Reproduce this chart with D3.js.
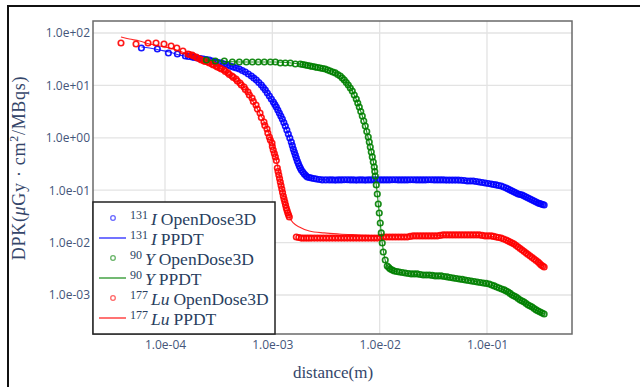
<!DOCTYPE html>
<html><head><meta charset="utf-8">
<script src="https://cdn.jsdelivr.net/npm/d3@7"></script>
<style>body{margin:0;background:#fff}svg{display:block}</style>
</head><body>
<svg id="c" width="640" height="387"></svg>
<script>
// ---------- tick values / labels ----------
const xTicks = [1e-4, 1e-3, 1e-2, 1e-1];
const xTickLabels = ["1.0e-04", "1.0e-03", "1.0e-02", "1.0e-01"];
const yTicks = [1e2, 1e1, 1e0, 1e-1, 1e-2, 1e-3];
const yTickLabels = ["1.0e+02", "1.0e+01", "1.0e+00", "1.0e-01", "1.0e-02", "1.0e-03"];

// ---------- series: [distance (m), DPK] ----------
const iodineOpenDose = [[6.03e-5,51.7],[8.49e-5,49.5],[1.076e-4,41.5],[1.304e-4,39.7],[1.548e-4,36.4],[1.651e-4,35.6],[1.79e-4,34.8],[1.878e-4,34.1],[2.002e-4,33.3],[2.136e-4,32.6],[2.278e-4,31.9],[2.429e-4,31.2],[2.59e-4,30.5],[2.762e-4,29.2],[2.946e-4,28.0],[3.142e-4,27.4],[3.350e-4,26.8],[3.573e-4,25.6],[3.811e-4,24.5],[4.064e-4,23.4],[4.333e-4,22.4],[4.622e-4,21.5],[4.93e-4,20.6],[5.256e-4,19.25],[5.606e-4,18.0],[5.977e-4,16.5],[6.376e-4,15.1],[6.724e-4,13.8],[7.097e-4,12.7],[7.485e-4,11.36],[7.900e-4,10.2],[8.243e-4,9.12],[8.607e-4,8.17],[8.981e-4,7.16],[9.38e-4,6.28],[9.788e-4,5.50],[1.022e-3,4.82],[1.055e-3,4.32],[1.089e-3,3.87],[1.125e-3,3.39],[1.162e-3,2.97],[1.200e-3,2.61],[1.239e-3,2.28],[1.280e-3,1.959],[1.321e-3,1.68],[1.365e-3,1.41],[1.409e-3,1.18],[1.455e-3,0.991],[1.502e-3,0.831],[1.535e-3,0.713],[1.568e-3,0.611],[1.603e-3,0.536],[1.638e-3,0.469],[1.673e-3,0.412],[1.709e-3,0.361],[1.747e-3,0.323],[1.784e-3,0.290],[1.823e-3,0.265],[1.862e-3,0.243],[1.923e-3,0.2225],[1.986e-3,0.204],[2.050e-3,0.1908],[2.118e-3,0.1786],[2.211e-3,0.1747],[2.307e-3,0.171],[2.434e-3,0.1672],[2.569e-3,0.1636],[2.739e-3,0.160],[2.920e-3,0.157],[3.148e-3,0.157],
[3.394e-3,0.157],[3.619e-3,0.157],[3.860e-3,0.156],[4.117e-3,0.157],[4.390e-3,0.157],[4.682e-3,0.158],[4.993e-3,0.158],[5.325e-3,0.157],[5.678e-3,0.157],[6.055e-3,0.156],[6.457e-3,0.157],[6.886e-3,0.157],[7.345e-3,0.156],[7.833e-3,0.157],[8.353e-3,0.157],[8.908e-3,0.158],[9.50e-3,0.158],[1.013e-2,0.157],[1.080e-2,0.157],[1.152e-2,0.157],[1.229e-2,0.157],[1.311e-2,0.158],[1.397e-2,0.158],[1.490e-2,0.157],[1.589e-2,0.157],[1.695e-2,0.157],[1.807e-2,0.157],[1.927e-2,0.158],[2.055e-2,0.158],[2.192e-2,0.157],[2.337e-2,0.157],[2.492e-2,0.157],[2.658e-2,0.157],[2.834e-2,0.158],[3.023e-2,0.158],[3.224e-2,0.157],[3.438e-2,0.157],[3.666e-2,0.157],[3.910e-2,0.157],[4.170e-2,0.156],[4.446e-2,0.156],[4.741e-2,0.156],[5.057e-2,0.156],[5.393e-2,0.156],[5.751e-2,0.155],[6.133e-2,0.1532],[6.540e-2,0.1498],[6.974e-2,0.1498],[7.438e-2,0.1498],[7.932e-2,0.1466],[8.459e-2,0.1434],[9.021e-2,0.1403],[9.620e-2,0.137],[0.1026,0.1342],[0.1094,0.1313],[0.1154,0.1284],[0.1218,0.126],[0.1285,0.1229],[0.1356,0.1203],[0.1430,0.1151],[0.1510,0.110],[0.1575,0.1054],[0.1644,0.101],[0.1716,0.0966],[0.1791,0.0924],[0.1870,0.0884],[0.1952,0.0846],[0.2037,0.0828],[0.2127,0.0810],[0.2220,0.0775],[0.2317,0.0742],[0.2418,0.0710],[0.2525,0.0679],[0.2635,0.0650],[0.2751,0.0622],[0.2870,0.0595],[0.2997,0.0570],[0.3095,0.0557],[0.3196,0.0545],[0.3301,0.0533],[0.3408,0.0522]];

const iodinePPDT = [[6.03e-5,54.1],[7.16e-5,51.7],[8.87e-5,47.4],[1.10e-4,43.4],[1.36e-4,38.0],[1.79e-4,34.8],[2.278e-4,31.9],[2.946e-4,28.0],[3.811e-4,24.5],[4.93e-4,20.6],[6.376e-4,15.1],[7.9e-4,10.2],[9.38e-4,6.28],[1.089e-3,3.87],[1.239e-3,2.28],[1.409e-3,1.18],[1.568e-3,0.611],[1.709e-3,0.361],[1.862e-3,0.243],[2.118e-3,0.1786],[2.569e-3,0.1636],[3.394e-3,0.157],[1.522e-2,0.157],[5.508e-2,0.157],[8.459e-2,0.1434],[0.1218,0.126],[0.1644,0.101],[0.2127,0.081],[0.2751,0.0622],[0.3408,0.0522]];

const yttriumOpenDose = [[2.429e-4,30.5],[2.946e-4,29.2],[3.573e-4,29.2],[4.242e-4,28.0],[4.93e-4,28.0],[5.727e-4,28.0],[6.514e-4,28.0],[7.407e-4,28.0],[8.423e-4,28.0],[9.581e-4,28.0],[1.067e-3,28.0],[1.187e-3,26.8],[1.321e-3,26.8],[1.471e-3,26.8],[1.638e-3,25.6],[1.823e-3,25.6],[1.923e-3,25.1],[2.029e-3,24.5],[2.140e-3,24.0],[2.259e-3,23.4],[2.383e-3,22.9],[2.514e-3,22.4],[2.652e-3,21.95],[2.798e-3,21.5],[2.953e-3,21.0],[3.114e-3,20.6],[3.287e-3,19.7],[3.467e-3,18.8],[3.659e-3,18.0],[3.860e-3,17.3],[4.073e-3,16.1],[4.296e-3,15.1],[4.484e-3,13.8],[4.681e-3,12.7],[4.887e-3,11.36],[5.099e-3,10.2],[5.324e-3,8.92],[5.556e-3,7.82],[5.800e-3,6.56],[6.053e-3,5.50],[6.251e-3,4.61],[6.457e-3,3.87],[6.668e-3,3.18],[6.887e-3,2.61],[7.112e-3,2.09],[7.345e-3,1.68],[7.585e-3,1.319],[7.833e-3,1.036],[8.003e-3,0.831],[8.176e-3,0.667],[8.353e-3,0.536],[8.534e-3,0.431],[8.720e-3,0.345],[8.908e-3,0.277],[9.004e-3,0.2275],[9.10e-3,0.1866],[9.297e-3,0.126],[9.50e-3,0.0846],[9.705e-3,0.0545],[9.915e-3,0.0367],[1.013e-2,0.0237],[1.035e-2,0.0153],[1.057e-2,0.00982],[1.080e-2,0.00662],[1.127e-2,0.00466],[1.177e-2,0.00358],[1.216e-2,0.00335],[1.256e-2,0.00313],[1.310e-2,0.00300],[1.367e-2,0.00287],[1.443e-2,0.00281],[1.522e-2,0.00275],[1.623e-2,0.00269],[1.731e-2,0.00263],[1.846e-2,0.00257],[1.968e-2,0.00252],[2.100e-2,0.00252],[2.239e-2,0.00252],[2.388e-2,0.00246],[2.546e-2,0.00241],[2.716e-2,0.00241],[2.896e-2,0.00241],[3.089e-2,0.00236],[3.293e-2,0.00231],[3.513e-2,0.00231],[3.745e-2,0.00231],[3.996e-2,0.00225],[4.259e-2,0.00221],[4.544e-2,0.00216],[4.844e-2,0.00211],[5.167e-2,0.00206],[5.508e-2,0.00202],[5.877e-2,0.00198],[6.266e-2,0.00193],[6.683e-2,0.00189],[7.127e-2,0.00185],[7.601e-2,0.00181],[8.104e-2,0.00177],[8.644e-2,0.00173],[9.218e-2,0.00169],[9.830e-2,0.00166],[0.1048,0.00162],[0.1106,0.00155],[0.1167,0.00149],[0.1231,0.00142],[0.1299,0.00136],[0.1370,0.00130],[0.1446,0.00125],[0.1510,0.00119],[0.1575,0.00114],[0.1644,0.00107],[0.1716,0.00100],[0.1791,0.000957],[0.1870,0.000916],[0.1952,0.000857],[0.2037,0.000803],[0.2127,0.000768],[0.2220,0.000735],[0.2317,0.000688],[0.2418,0.000644],[0.2525,0.000617],[0.2635,0.000590],[0.2751,0.000553],[0.2870,0.000518],[0.2997,0.000495],[0.3128,0.000474],[0.3266,0.000453],[0.3408,0.000434]];

const yttriumPPDT = [[2.429e-4,30.5],[4.93e-4,28.0],[1.067e-3,28.0],[1.823e-3,25.6],[2.798e-3,21.5],[3.86e-3,17.3],[4.681e-3,12.7],[5.556e-3,7.82],[6.457e-3,3.87],[7.345e-3,1.68],[8.176e-3,0.667],[8.908e-3,0.277],[9.50e-3,0.0846],[1.013e-2,0.0237],[1.057e-2,0.00982],[1.104e-2,0.00555],[1.177e-2,0.00358],[1.367e-2,0.00287],[1.968e-2,0.00252],[3.293e-2,0.00231],[5.508e-2,0.00202],[9.218e-2,0.00169],[0.1299,0.00136],[0.1716,0.00100],[0.2220,0.000735],[0.2870,0.000518],[0.3408,0.000434]];

const lutetiumOpenDose = [[3.89e-5,64.4],[5.37e-5,61.6],[6.95e-5,64.4],[8.25e-5,64.4],[9.79e-5,61.6],[1.14e-4,56.5],[1.29e-4,51.7],[1.47e-4,45.4],[1.64e-4,39.7],[1.687e-4,38.9],[1.79e-4,38.0],[1.838e-4,36.4],[1.95e-4,34.8],[2.002e-4,33.3],[2.12e-4,31.9],[2.182e-4,30.5],[2.31e-4,29.2],[2.377e-4,28.6],[2.52e-4,28.0],[2.59e-4,26.8],[2.74e-4,25.6],[2.823e-4,24.5],[2.99e-4,23.4],[3.075e-4,22.4],[3.25e-4,21.5],[3.35e-4,20.6],[3.55e-4,19.7],[3.651e-4,18.4],[3.86e-4,17.3],[3.978e-4,16.1],[4.21e-4,15.1],[4.333e-4,14.2],[4.59e-4,13.2],[4.721e-4,12.1],[5.00e-4,11.1],[5.145e-4,10.2],[5.45e-4,9.32],[5.606e-4,8.35],[5.93e-4,7.48],[6.107e-4,6.56],[6.47e-4,5.75],[6.653e-4,4.93],[7.05e-4,4.23],[7.248e-4,3.54],[7.68e-4,2.97],[7.900e-4,2.44],[8.36e-4,2.00],[8.514e-4,1.717],[8.92e-4,1.47],[9.08e-4,1.235],[9.38e-4,1.036],[9.581e-4,0.906],[9.93e-4,0.796],[1.0e-3,0.682],[1.02e-3,0.584],[1.044e-3,0.502],[1.067e-3,0.431],[1.089e-3,0.369],[1.113e-3,0.265],[1.131e-3,0.2275],[1.149e-3,0.195],[1.168e-3,0.1672],[1.187e-3,0.1434],[1.206e-3,0.1229],[1.226e-3,0.1054],[1.245e-3,0.0904],[1.266e-3,0.0775],[1.286e-3,0.0679],[1.307e-3,0.0595],[1.328e-3,0.0522],[1.350e-3,0.0457],[1.372e-3,0.0410],[1.394e-3,0.0367],[1.417e-3,0.0336],[1.440e-3,0.0308],
[1.673e-3,0.0128],[1.765e-3,0.0125],[1.862e-3,0.0122],[1.965e-3,0.0122],[2.073e-3,0.0122],[2.187e-3,0.0122],[2.307e-3,0.0122],[2.461e-3,0.0122],[2.624e-3,0.0122],[2.798e-3,0.0122],[2.985e-3,0.0122],[3.183e-3,0.0122],[3.394e-3,0.0122],[3.619e-3,0.0122],[3.860e-3,0.0122],[4.117e-3,0.0122],[4.390e-3,0.0122],[4.682e-3,0.0122],[4.993e-3,0.0122],[5.325e-3,0.0122],[5.678e-3,0.0122],[6.055e-3,0.0122],[6.457e-3,0.0122],[6.886e-3,0.0122],[7.345e-3,0.0122],[7.833e-3,0.0122],[8.353e-3,0.0122],[8.908e-3,0.0122],[9.50e-3,0.0122],[1.013e-2,0.0125],[1.080e-2,0.0128],[1.152e-2,0.0128],[1.229e-2,0.0128],[1.311e-2,0.0128],[1.397e-2,0.0128],[1.490e-2,0.0128],[1.589e-2,0.0128],[1.695e-2,0.0128],[1.807e-2,0.0128],[1.927e-2,0.0131],[2.055e-2,0.0134],[2.192e-2,0.0134],[2.337e-2,0.0134],[2.492e-2,0.0134],[2.658e-2,0.0134],[2.834e-2,0.0134],[3.023e-2,0.0134],[3.224e-2,0.0134],[3.438e-2,0.0134],[3.666e-2,0.0137],[3.910e-2,0.0140],[4.170e-2,0.0140],[4.446e-2,0.0140],[4.741e-2,0.0140],[5.057e-2,0.0140],[5.393e-2,0.0140],[5.751e-2,0.0140],[6.133e-2,0.0140],[6.540e-2,0.0140],[6.974e-2,0.0140],[7.438e-2,0.0140],[7.932e-2,0.0140],[8.459e-2,0.0140],[9.021e-2,0.0137],[9.620e-2,0.0134],[0.1026,0.0134],[0.1094,0.0134],[0.1154,0.0131],[0.1218,0.0128],[0.1285,0.0125],[0.1356,0.0122],[0.1430,0.0117],[0.1510,0.0112],[0.1575,0.01073],[0.1644,0.01026],[0.1716,0.00982],[0.1791,0.00940],[0.1870,0.00880],[0.1952,0.00824],[0.2037,0.00772],[0.2127,0.00723],[0.2220,0.00676],[0.2317,0.00633],[0.2418,0.00593],[0.2525,0.00555],[0.2635,0.00520],[0.2751,0.00486],[0.2870,0.00455],[0.2997,0.00426],[0.3095,0.00399],[0.3196,0.00374],[0.3301,0.00358],[0.3408,0.00342]];

const lutetiumPPDT = [[3.89e-5,84],[4.66e-5,76.8],[5.78e-5,70.4],[7.16e-5,61.6],[8.87e-5,56.5],[1.10e-4,51.7],[1.36e-4,45.4],[1.69e-4,38.0],[2.09e-4,31.9],[2.59e-4,26.8],[3.21e-4,21.5],[4.21e-4,14.5],[5.45e-4,9.32],[6.65e-4,4.82],[8.24e-4,2.19],[9.58e-4,1.036],[1.067e-3,0.469],[1.162e-3,0.195],[1.266e-3,0.081],[1.350e-3,0.0478],[1.440e-3,0.0308],[1.568e-3,0.0237],[1.784e-3,0.0199],[2.211e-3,0.01665],[3.05e-3,0.0153],[4.205e-3,0.01459],[6.457e-3,0.0140],[9.915e-3,0.0134],[2.337e-2,0.0134],[5.508e-2,0.0140],[9.83e-2,0.0134],[0.1510,0.0112],[0.1995,0.00824],[0.2525,0.00580],[0.3128,0.00408],[0.3408,0.00342]];

// ---------- legend ----------
const legendMass = ["131", "131", "90", "90", "177", "177"];
const legendSymbol = ["I", "I", "Y", "Y", "Lu", "Lu"];
const legendSource = ["OpenDose3D", "PPDT", "OpenDose3D", "PPDT", "OpenDose3D", "PPDT"];
const legendKind = ["marker", "line", "marker", "line", "marker", "line"];
const seriesColor = { I: "#0000ff", Y: "#008000", Lu: "#ff0000" };

// ---------- drawing ----------
const svg = d3.select("#c");
const L = 93, R = 572, T = 21, B = 334;
const x = d3.scaleLog().domain([2.134e-5, 0.6194]).range([L, R]);
const y = d3.scaleLog().domain([1.80e-4, 169.5]).range([B, T]);

svg.append("path").attr("d", "M8,387V6H640").attr("fill", "none")
  .attr("stroke", "#111").attr("stroke-width", 2);

const grid = svg.append("g");
grid.selectAll("line.gx").data(xTicks).join("line")
  .attr("x1", d => x(d)).attr("x2", d => x(d)).attr("y1", T).attr("y2", B)
  .attr("stroke", "#e3e3e3").attr("stroke-width", 1.3);
grid.selectAll("line.gy").data(yTicks).join("line")
  .attr("y1", d => y(d)).attr("y2", d => y(d)).attr("x1", L).attr("x2", R)
  .attr("stroke", "#e3e3e3").attr("stroke-width", 1.3);

svg.append("defs").append("clipPath").attr("id", "clip")
  .append("rect").attr("x", L).attr("y", T).attr("width", R - L).attr("height", B - T);
const plot = svg.append("g").attr("clip-path", "url(#clip)");
const lineGen = d3.line().x(d => x(d[0])).y(d => y(d[1])).curve(d3.curveMonotoneX);

function drawSeries(od, pp, color) {
  plot.append("g").selectAll("circle").data(od).join("circle")
    .attr("cx", d => x(d[0])).attr("cy", d => y(d[1])).attr("r", 2.75)
    .attr("fill", "none").attr("stroke", color).attr("stroke-width", 1.65).attr("stroke-opacity", 0.9);
  plot.append("path").datum(pp).attr("d", lineGen)
    .attr("fill", "none").attr("stroke", color).attr("stroke-width", 1.1).attr("stroke-opacity", 0.85);
}
drawSeries(iodineOpenDose, iodinePPDT, seriesColor.I);
drawSeries(lutetiumOpenDose, lutetiumPPDT, seriesColor.Lu);
drawSeries(yttriumOpenDose, yttriumPPDT, seriesColor.Y);

svg.append("rect").attr("x", L).attr("y", T).attr("width", R - L).attr("height", B - T)
  .attr("fill", "none").attr("stroke", "#6a6a6a").attr("stroke-width", 1.5);

const tickFont = "'Open Sans', sans-serif";
const tickColor = "#44557a";
const yAxis = d3.axisLeft(y).tickValues(yTicks).tickFormat((d, i) => yTickLabels[i]).tickSize(0).tickPadding(3);
const gy = svg.append("g").attr("transform", `translate(${L},0)`).call(yAxis);
gy.select(".domain").remove();
gy.selectAll("text").attr("font-family", tickFont).attr("font-size", 12).attr("fill", tickColor);

const xAxis = d3.axisBottom(x).tickValues(xTicks).tickFormat((d, i) => xTickLabels[i]).tickSize(0).tickPadding(6);
const gx = svg.append("g").attr("transform", `translate(0,${B})`).call(xAxis);
gx.select(".domain").remove();
gx.selectAll("text").attr("font-family", tickFont).attr("font-size", 12).attr("fill", tickColor);

const serif = "'Liberation Serif', 'DejaVu Serif', serif";
const titleColor = "#34466a";
svg.append("text").attr("x", 333).attr("y", 378).attr("text-anchor", "middle")
  .attr("font-family", serif).attr("font-size", 17).attr("fill", titleColor).text("distance(m)");

const yt = svg.append("text").attr("transform", "translate(25,168) rotate(-90)")
  .attr("text-anchor", "middle").attr("font-family", serif).attr("font-size", 18)
  .attr("letter-spacing", 0.7).attr("fill", titleColor);
yt.append("tspan").text("DPK(");
yt.append("tspan").attr("font-style", "italic").text("μ");
yt.append("tspan").text("Gy · cm");
yt.append("tspan").attr("font-size", 12).attr("dy", -7).text("2");
yt.append("tspan").attr("dy", 7).text("/MBqs)");

const lg = svg.append("g");
lg.append("rect").attr("x", L).attr("y", 202).attr("width", 182).attr("height", B - 202)
  .attr("fill", "#fff").attr("stroke", "#222").attr("stroke-width", 1.5);
legendMass.forEach((m, i) => {
  const cy = 218 + i * 20;
  const col = seriesColor[legendSymbol[i]];
  if (legendKind[i] === "marker") {
    lg.append("circle").attr("cx", 113).attr("cy", cy).attr("r", 2.3).attr("fill", "none")
      .attr("stroke", col).attr("stroke-width", 1.3).attr("stroke-opacity", 0.6);
  } else {
    lg.append("line").attr("x1", 99).attr("x2", 126).attr("y1", cy).attr("y2", cy)
      .attr("stroke", col).attr("stroke-width", 2).attr("stroke-opacity", 0.55);
  }
  const t = lg.append("text").attr("x", 130).attr("y", cy + 7)
    .attr("font-family", serif).attr("font-size", 17.5).attr("fill", "#2a3f5f");
  t.append("tspan").attr("font-size", 12).attr("dy", -6).text(m);
  t.append("tspan").attr("font-style", "italic").attr("dy", 6).attr("dx", 3).text(legendSymbol[i]);
  t.append("tspan").attr("dx", 4).text(legendSource[i]);
});
</script>
</body></html>
